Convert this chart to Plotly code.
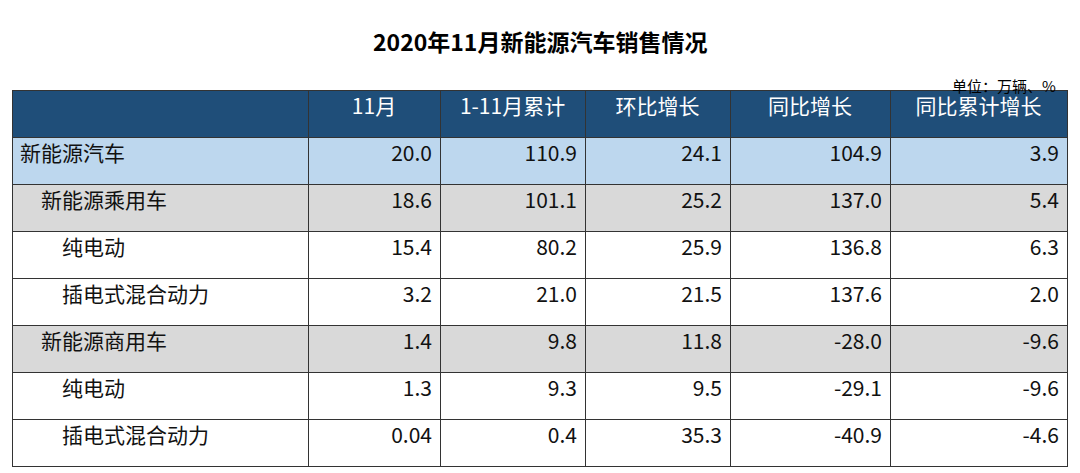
import plotly.graph_objects as go

FONT = "Noto Sans CJK SC"

# table data
headers = ["", "11月", "1-11月累计", "环比增长", "同比增长", "同比累计增长"]
categories = ["新能源汽车", "\u3000新能源乘用车", "\u3000\u3000纯电动", "\u3000\u3000插电式混合动力",
              "\u3000新能源商用车", "\u3000\u3000纯电动", "\u3000\u3000插电式混合动力"]
nov = ["20.0", "18.6", "15.4", "3.2", "1.4", "1.3", "0.04"]
ytd = ["110.9", "101.1", "80.2", "21.0", "9.8", "9.3", "0.4"]
mom = ["24.1", "25.2", "25.9", "21.5", "11.8", "9.5", "35.3"]
yoy = ["104.9", "137.0", "136.8", "137.6", "-28.0", "-29.1", "-40.9"]
yoy_ytd = ["3.9", "5.4", "6.3", "2.0", "-9.6", "-9.6", "-4.6"]

row_colors = ["#bdd7ee", "#d9d9d9", "#ffffff", "#ffffff", "#d9d9d9", "#ffffff", "#ffffff"]

W, H = 1080, 473
OFF = 8  # page body margin
col_widths = [296, 132, 145, 145, 160, 177]

fig = go.Figure(go.Table(
    domain=dict(x=[(12 - OFF) / W, (1067 - OFF) / W], y=[0, 1 - (90 - OFF) / H]),
    columnwidth=col_widths,
    header=dict(
        values=headers,
        fill_color="#1f4e79",
        line=dict(color="#333333", width=1),
        font=dict(family=FONT, size=21, color="white"),
        align="center",
        height=47,
    ),
    cells=dict(
        values=[categories, nov, ytd, mom, yoy, yoy_ytd],
        fill_color=[row_colors] * 6,
        line=dict(color="#333333", width=1),
        font=dict(family=FONT, size=21, color="#111111"),
        align=["left", "right", "right", "right", "right", "right"],
        height=47,
    ),
))

fig.add_annotation(text="<b>2020年11月新能源汽车销售情况</b>", x=(540 - OFF) / W, y=1 - (22 - OFF) / H,
                   xref="paper", yref="paper", showarrow=False,
                   font=dict(family=FONT, size=23, color="black"))
fig.add_annotation(text="单位：万辆、%", x=(1058 - OFF) / W, y=1 - (73 - OFF) / H,
                   xref="paper", yref="paper", xanchor="right", showarrow=False,
                   font=dict(family=FONT, size=15, color="black"))

fig.update_layout(width=W, height=H, margin=dict(l=0, r=0, t=0, b=0),
                  paper_bgcolor="white")

fig.write_html("out.html")
